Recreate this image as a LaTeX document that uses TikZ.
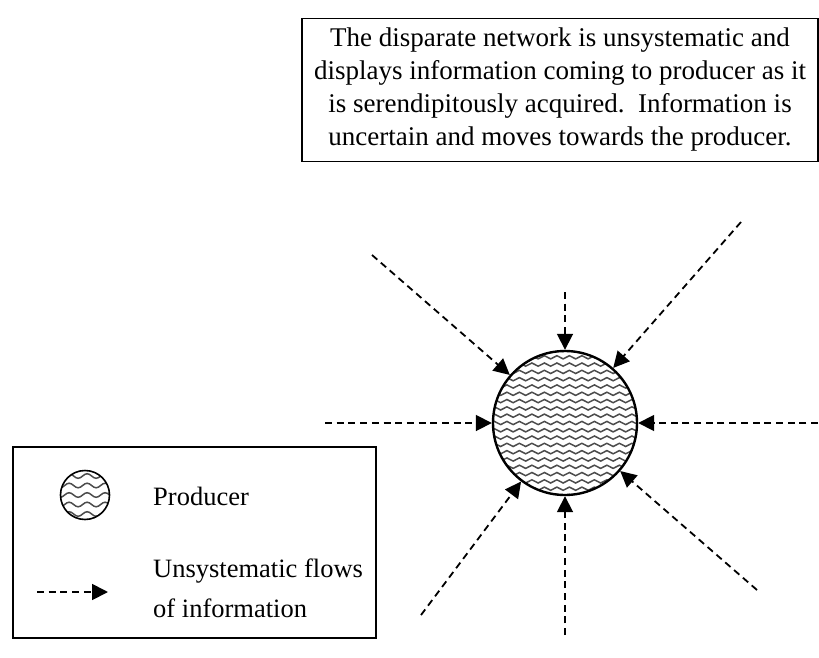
\documentclass[tikz,border=0pt]{standalone}
\usepackage{fontspec}
\setmainfont{Liberation Serif}
\usetikzlibrary{arrows.meta,decorations.pathmorphing}

\tikzset{
  flow/.style={line width=1.8pt, dash pattern=on 7pt off 4.7pt, -{Triangle[length=16pt,width=16pt]}},
  wave/.style 2 args={black!70, line width=1.5pt, decorate, decoration={snake, segment length=#1, amplitude=#2}},
  boxed/.style={draw, line width=1.5pt},
}

\begin{document}
\begin{tikzpicture}[x=1pt,y=-1pt]
  \useasboundingbox (0,0) rectangle (819,658);
  \node[boxed, minimum width=516pt, minimum height=143pt, align=center, font=\fontsize{27}{33}\selectfont] (note) at (560,90)
    {The disparate network is unsystematic and\\displays information coming to producer as it\\is serendipitously acquired.\ \ Information is\\uncertain and moves towards the producer.};
  % the producer, filled with wavy lines
  \node[circle, draw, line width=2.4pt, minimum size=144pt, inner sep=0pt,
    path picture={\foreach \k in {-10,...,10}
      \draw[wave={12.5pt}{1.6pt}] ([shift={(-15pt,\k*7.3pt)}]path picture bounding box.west) -- ([shift={(15pt,\k*7.3pt)}]path picture bounding box.east);}] (prod) at (565,423) {};
  % sources of the flows
  \coordinate (srcN) at (565,292);
  \coordinate (srcNE) at (741,222);
  \coordinate (srcE) at (818,423);
  \coordinate (srcSE) at (757,590);
  \coordinate (srcS) at (565,635);
  \coordinate (srcSW) at (421,615);
  \coordinate (srcW) at (325,423);
  \coordinate (srcNW) at (372,255);
  \foreach \s in {N,NE,E,SE,S,SW,W,NW}{\draw[flow] (src\s) -- (prod);}
  % legend
  \node[boxed, minimum width=363pt, minimum height=191pt] (legend) at (194.5,542.5) {};
  \node[circle, draw, line width=1.6pt, minimum size=49pt, inner sep=0pt,
    path picture={\foreach \k in {-3,...,3}
      \draw[wave={18pt}{2.3pt}] ([shift={(-15pt,\k*9.5pt)}]path picture bounding box.west) -- ([shift={(15pt,\k*9.5pt)}]path picture bounding box.east);}] (legprod) at (85,495) {};
  \node[anchor=base west, inner sep=0pt, font=\fontsize{26.5}{40}\selectfont] (legprodtext) at (153,505) {Producer};
  \node[anchor=west, inner sep=0pt, align=left, font=\fontsize{26.5}{40}\selectfont] (legflowtext) at (153,588) {Unsystematic flows\\of information};
  \coordinate (legA) at (37,592);
  \coordinate (legB) at (108,592);
  \draw[flow] (legA) -- (legB);
\end{tikzpicture}
\end{document}
